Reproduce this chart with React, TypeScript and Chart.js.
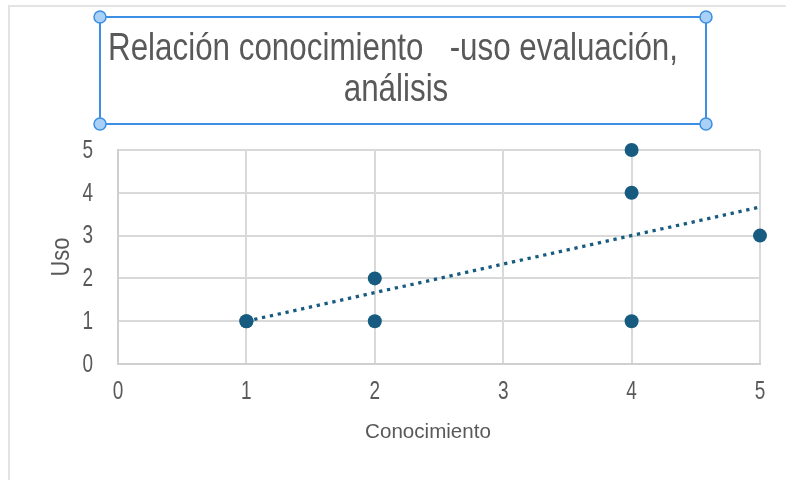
import React, { useEffect, useRef } from "react";
import { Chart, registerables } from "chart.js";

Chart.register(...registerables);

const titleLines = ["Relación conocimiento   -uso evaluación,", "análisis"];
const xAxisTitle = "Conocimiento";
const yAxisTitle = "Uso";
const conocimiento = [1, 1, 2, 2, 4, 4, 4, 5];
const uso = [1, 1, 1, 2, 1, 4, 5, 3];
const axisMin = 0;
const axisMax = 5;

const POINT_COLOR = "#175b80";
const TEXT_COLOR = "#595959";
const SANS = "'Liberation Sans', Arial, sans-serif";

function trend(xs: number[], ys: number[]) {
  const n = xs.length;
  const mx = xs.reduce((a, b) => a + b, 0) / n;
  const my = ys.reduce((a, b) => a + b, 0) / n;
  let sxy = 0;
  let sxx = 0;
  for (let i = 0; i < n; i++) {
    sxy += (xs[i] - mx) * (ys[i] - my);
    sxx += (xs[i] - mx) * (xs[i] - mx);
  }
  const m = sxy / sxx;
  const b = my - m * mx;
  const x0 = Math.min(...xs);
  const x1 = Math.max(...xs);
  return [
    { x: x0, y: m * x0 + b },
    { x: x1, y: m * x1 + b },
  ];
}

// draw text horizontally compressed by factor sx around (x,y)
function narrowText(ctx: any, text: string, x: number, y: number, sx: number) {
  ctx.save();
  ctx.translate(x, y);
  ctx.scale(sx, 1);
  ctx.fillText(text, 0, 0);
  ctx.restore();
}

const decorPlugin = {
  id: "decor",
  beforeDraw(chart: any) {
    const ctx = chart.ctx;
    ctx.save();
    ctx.fillStyle = "#ffffff";
    ctx.fillRect(0, 0, chart.width, chart.height);
    ctx.strokeStyle = "#e3e3e3";
    ctx.lineWidth = 2;
    ctx.beginPath();
    ctx.moveTo(9, 480);
    ctx.lineTo(9, 6);
    ctx.lineTo(786, 6);
    ctx.stroke();
    ctx.restore();
  },
  afterDraw(chart: any) {
    const ctx = chart.ctx;
    const xs = chart.scales.x;
    const ys = chart.scales.y;
    ctx.save();
    ctx.fillStyle = TEXT_COLOR;

    // tick labels (narrow)
    ctx.font = `25px ${SANS}`;
    ctx.textBaseline = "middle";
    ctx.textAlign = "right";
    for (const t of ys.ticks) {
      const py = ys.getPixelForValue(t.value);
      narrowText(ctx, String(t.value), 93, py + 1, 0.76);
    }
    ctx.textAlign = "center";
    for (const t of xs.ticks) {
      const px = xs.getPixelForValue(t.value);
      narrowText(ctx, String(t.value), px, 392, 0.76);
    }

    // axis titles
    ctx.font = `21px ${SANS}`;
    ctx.textAlign = "center";
    ctx.textBaseline = "middle";
    narrowText(ctx, xAxisTitle, 428, 432, 0.98);

    ctx.save();
    ctx.translate(62, 257);
    ctx.rotate(-Math.PI / 2);
    ctx.scale(0.84, 1);
    ctx.font = `26px ${SANS}`;
    ctx.fillText(yAxisTitle, 0, 0);
    ctx.restore();

    // title text (narrow)
    ctx.font = `38px ${SANS}`;
    ctx.textAlign = "center";
    ctx.textBaseline = "alphabetic";
    const w = ctx.measureText(titleLines[0]).width;
    const sx = 570 / w;
    narrowText(ctx, titleLines[0], 393, 60, sx);
    narrowText(ctx, titleLines[1], 396, 101, sx);

    // selection box
    const L = 100, T = 17, R = 706, B = 124;
    ctx.strokeStyle = "#3c8fe3";
    ctx.lineWidth = 2;
    ctx.strokeRect(L, T, R - L, B - T);
    const corners = [
      [L, T],
      [R, T],
      [L, B],
      [R, B],
    ];
    for (const [cx, cy] of corners) {
      ctx.beginPath();
      ctx.arc(cx, cy, 6, 0, Math.PI * 2);
      ctx.fillStyle = "#a9d1f7";
      ctx.fill();
      ctx.lineWidth = 1.5;
      ctx.strokeStyle = "#3c8fe3";
      ctx.stroke();
    }
    ctx.restore();
  },
};

export default function App() {
  const ref = useRef<HTMLCanvasElement>(null);

  useEffect(() => {
    if (!ref.current) return;
    const points = conocimiento.map((x, i) => ({ x, y: uso[i] }));
    const chart = new Chart(ref.current, {
      type: "scatter",
      data: {
        datasets: [
          {
            type: "line",
            label: "Tendencia",
            data: trend(conocimiento, uso),
            borderColor: POINT_COLOR,
            borderWidth: 3.3,
            borderDash: [3.3, 4.7],
            pointRadius: 0,
            fill: false,
            clip: false,
            order: 2,
          } as any,
          {
            label: "Uso",
            data: points,
            backgroundColor: POINT_COLOR,
            borderColor: POINT_COLOR,
            pointRadius: 7,
            pointBorderWidth: 0,
            clip: false,
            order: 1,
          } as any,
        ],
      },
      options: {
        responsive: false,
        animation: false,
        layout: { padding: { left: 47, top: 150, right: 26, bottom: 0 } },
        plugins: {
          legend: { display: false },
          title: { display: false },
          tooltip: { enabled: false },
        },
        scales: {
          x: {
            type: "linear",
            min: axisMin,
            max: axisMax,
            afterFit: (s: any) => {
              s.height = 116;
            },
            ticks: {
              stepSize: 1,
              color: "rgba(0,0,0,0)",
              font: { family: SANS, size: 12 },
            },
            grid: { color: "#d9d9d9", lineWidth: 2, drawTicks: false },
            border: { color: "#cfcfcf", width: 2 },
            title: { display: false, text: xAxisTitle },
          },
          y: {
            type: "linear",
            min: axisMin,
            max: axisMax,
            afterFit: (s: any) => {
              s.width = 71;
            },
            ticks: {
              stepSize: 1,
              color: "rgba(0,0,0,0)",
              font: { family: SANS, size: 12 },
            },
            grid: { color: "#d9d9d9", lineWidth: 2, drawTicks: false },
            border: { color: "#cfcfcf", width: 2 },
            title: { display: false, text: yAxisTitle },
          },
        },
      },
      plugins: [decorPlugin],
    });
    return () => chart.destroy();
  }, []);

  return (
    <div style={{ position: "fixed", left: 0, top: 0, width: 786, height: 480, background: "#fff" }}>
      <canvas ref={ref} width={786} height={480} style={{ display: "block" }} />
    </div>
  );
}
